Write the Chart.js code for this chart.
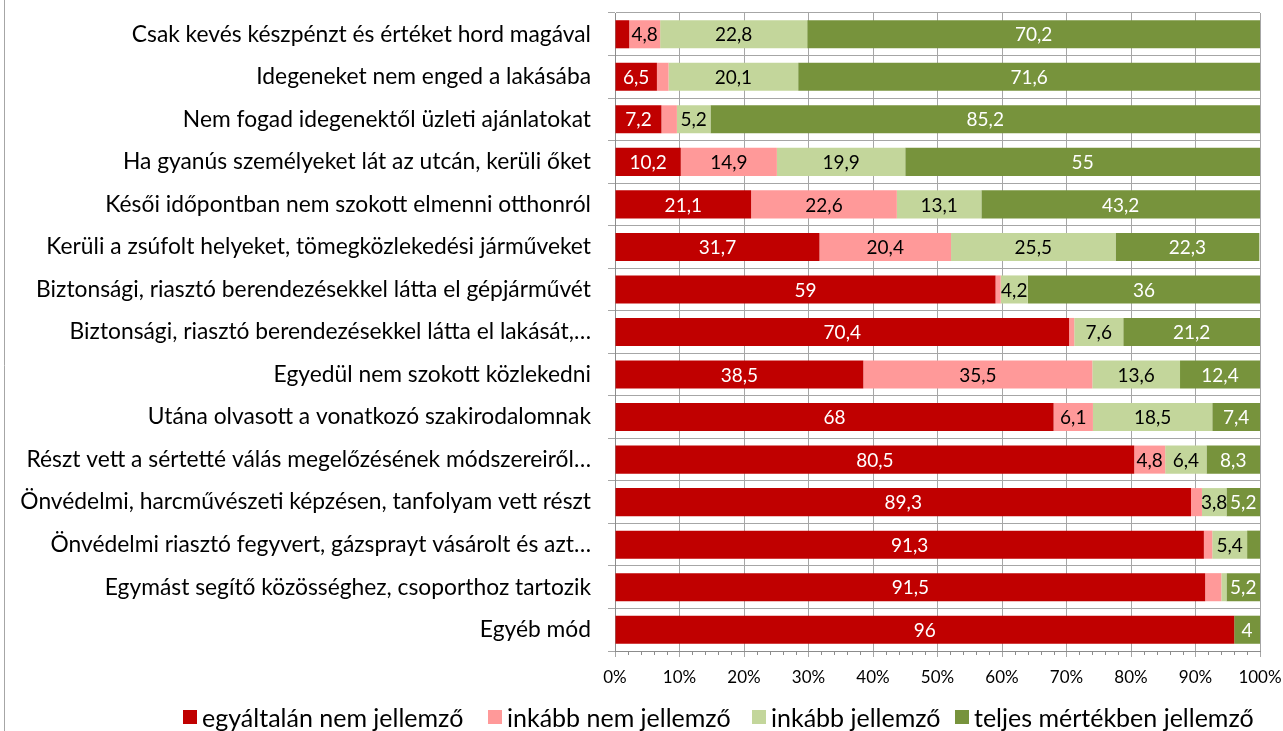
<!DOCTYPE html>
<html>
<head>
<meta charset="utf-8">
<script src="https://cdn.jsdelivr.net/npm/chart.js@4/dist/chart.umd.min.js"></script>
<style>
html,body{margin:0;padding:0;background:#fff;}
#wrap{width:1283px;height:731px;position:relative;overflow:hidden;}
#legend{position:absolute;left:0;top:0;width:1283px;height:731px;pointer-events:none;
  font-family:Lato,'Open Sans',sans-serif;font-size:25px;color:#000;white-space:nowrap;}
#legend .item{position:absolute;top:702px;height:30px;display:flex;align-items:center;}
#legend .box{width:14px;height:14px;margin-right:5px;}
</style>
</head>
<body>
<div id="wrap"><canvas id="c" width="1283" height="731"></canvas><div id="legend"></div></div>
<script>
const categories = [
  "Csak kevés készpénzt és értéket hord magával",
  "Idegeneket nem enged a lakásába",
  "Nem fogad idegenektől üzleti ajánlatokat",
  "Ha gyanús személyeket lát az utcán, kerüli őket",
  "Késői időpontban nem szokott elmenni otthonról",
  "Kerüli a zsúfolt helyeket, tömegközlekedési járműveket",
  "Biztonsági, riasztó berendezésekkel látta el gépjárművét",
  "Biztonsági, riasztó berendezésekkel látta el lakását,…",
  "Egyedül nem szokott közlekedni",
  "Utána olvasott a vonatkozó szakirodalomnak",
  "Részt vett a sértetté válás megelőzésének módszereiről…",
  "Önvédelmi, harcművészeti képzésen, tanfolyam vett részt",
  "Önvédelmi riasztó fegyvert, gázsprayt vásárolt és azt…",
  "Egymást segítő közösséghez, csoporthoz tartozik",
  "Egyéb mód"
];
const seriesNames = ["egyáltalán nem jellemző", "inkább nem jellemző", "inkább jellemző", "teljes mértékben jellemző"];
const notAtAll   = [2.2, 6.5, 7.2, 10.2, 21.1, 31.7, 59, 70.4, 38.5, 68, 80.5, 89.3, 91.3, 91.5, 96];
const ratherNot  = [4.8, 1.8, 2.4, 14.9, 22.6, 20.4, 0.8, 0.8, 35.5, 6.1, 4.8, 1.7, 1.3, 2.5, 0];
const rather     = [22.8, 20.1, 5.2, 19.9, 13.1, 25.5, 4.2, 7.6, 13.6, 18.5, 6.4, 3.8, 5.4, 0.8, 0];
const fully      = [70.2, 71.6, 85.2, 55, 43.2, 22.3, 36, 21.2, 12.4, 7.4, 8.3, 5.2, 2.0, 5.2, 4];
const xTicks = ["0%","10%","20%","30%","40%","50%","60%","70%","80%","90%","100%"];

const colors = ["#C00000", "#FF9999", "#C3D69B", "#77933C"];
const labelColors = ["#ffffff", "#000000", "#000000", "#ffffff"];
const seriesData = [notAtAll, ratherNot, rather, fully];
const legendLeft = [183, 488, 752, 955];

const FONT = "Lato, 'Open Sans', sans-serif";

const valueLabels = {
  id: 'valueLabels',
  afterDatasetsDraw(chart) {
    const ctx = chart.ctx;
    ctx.save();
    ctx.font = "19px " + FONT;
    ctx.textAlign = 'center';
    ctx.textBaseline = 'middle';
    chart.data.datasets.forEach((ds, di) => {
      const meta = chart.getDatasetMeta(di);
      meta.data.forEach((bar, i) => {
        const v = ds.data[i];
        if (v < 3) return;
        const cx = (bar.x + bar.base) / 2;
        ctx.fillStyle = labelColors[di];
        ctx.fillText(String(v).replace('.', ','), cx, bar.y + 1);
      });
    });
    ctx.restore();
  }
};

const extras = {
  id: 'extras',
  beforeDraw(chart) {
    const ctx = chart.ctx;
    ctx.save();
    ctx.fillStyle = '#fff';
    ctx.fillRect(0, 0, chart.width, chart.height);
    ctx.strokeStyle = '#a6a6a6';
    ctx.lineWidth = 1;
    ctx.beginPath();
    ctx.moveTo(4.5, 0);
    ctx.lineTo(4.5, chart.height);
    ctx.stroke();
    ctx.restore();
  },
  afterDraw(chart) {
    const ctx = chart.ctx;
    const xs = chart.scales.x;
    const y0 = chart.chartArea.bottom;
    ctx.save();
    ctx.strokeStyle = '#8c8c8c';
    ctx.lineWidth = 1;
    ctx.beginPath();
    for (let v = 2; v < 100; v += 2) {
      if (v % 10 === 0) continue;
      const px = Math.round(xs.getPixelForValue(v)) + 0.5;
      ctx.moveTo(px, y0);
      ctx.lineTo(px, y0 + 4);
    }
    ctx.stroke();
    ctx.restore();
  }
};

const legendEl = document.getElementById('legend');
seriesNames.forEach((n, i) => {
  const it = document.createElement('div');
  it.className = 'item';
  it.style.left = legendLeft[i] + 'px';
  const b = document.createElement('span');
  b.className = 'box';
  b.style.background = colors[i];
  const t = document.createElement('span');
  t.textContent = n;
  it.appendChild(b); it.appendChild(t);
  legendEl.appendChild(it);
});

new Chart(document.getElementById('c'), {
  type: 'bar',
  data: {
    labels: categories,
    datasets: seriesData.map((d, i) => ({
      label: seriesNames[i],
      data: d,
      backgroundColor: colors[i],
      borderWidth: 0,
      barPercentage: 0.66,
      categoryPercentage: 1.0
    }))
  },
  options: {
    indexAxis: 'y',
    responsive: false,
    animation: false,
    devicePixelRatio: 1,
    layout: { padding: { left: 0, right: 23, top: 13, bottom: 38 } },
    scales: {
      x: {
        stacked: true,
        min: 0,
        max: 100,
        ticks: {
          stepSize: 10,
          color: '#000',
          font: { size: 17, family: FONT },
          padding: 10,
          callback: (v, i) => xTicks[i]
        },
        grid: { color: '#a6a6a6', tickLength: 6, drawTicks: true },
        border: { color: '#8c8c8c' },
        afterFit(scale) { scale.height = 42; scale.paddingLeft = 0; scale.paddingRight = 0; }
      },
      y: {
        stacked: true,
        ticks: {
          color: '#000',
          font: { size: 22.8, family: FONT },
          padding: 17,
          autoSkip: false
        },
        grid: { color: '#a6a6a6', offset: true, tickLength: 7 },
        border: { color: '#8c8c8c' },
        afterFit(scale) { scale.width = 615; scale.paddingTop = 0; scale.paddingBottom = 0; }
      }
    },
    plugins: {
      legend: { display: false },
      tooltip: { enabled: false }
    }
  },
  plugins: [valueLabels, extras]
});
</script>
</body>
</html>
